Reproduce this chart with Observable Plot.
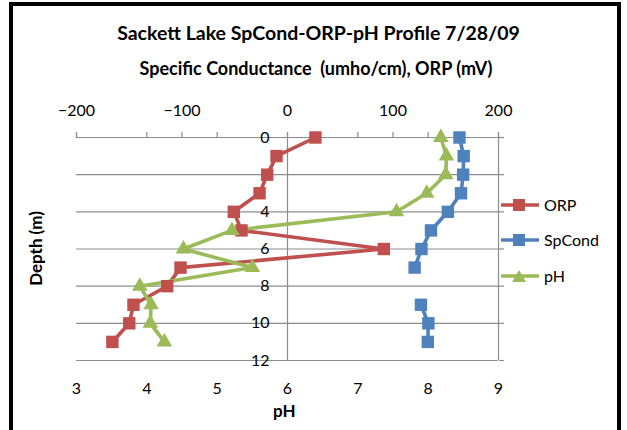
<!DOCTYPE html>
<html><head><meta charset="utf-8">
<script src="https://cdn.jsdelivr.net/npm/d3@7"></script>
<script src="https://cdn.jsdelivr.net/npm/@observablehq/plot@0.6"></script>
<style>
body{margin:0;background:#fff;}
#wrap{position:relative;width:627px;height:430px;overflow:hidden;font-family:Lato,"Open Sans",sans-serif;}
#frame{position:absolute;left:9px;top:2px;width:604px;height:460px;border:4px solid #000;}
.t{position:absolute;white-space:pre;color:#000;}
#plot{position:absolute;left:0;top:0;}
.leg{position:absolute;left:500px;font-size:16px;display:flex;align-items:center;}
.leg svg{margin-right:4px;}
</style></head>
<body><div id="wrap"><div id="frame"></div><div id="plot"></div>
<div class="t" id="title" style="left:0;width:637px;top:21px;text-align:center;font-size:19.5px;font-weight:bold;">Sackett Lake SpCond-ORP-pH Profile 7/28/09</div>
<div class="t" style="left:0;width:632px;top:57px;text-align:center;font-size:18px;font-weight:bold;">Specific Conductance  (umho/cm), ORP (mV)</div>
<div class="t" style="left:273px;top:400px;font-size:17px;font-weight:bold;">pH</div>
<div class="t" style="left:-5px;top:238px;font-size:17px;font-weight:bold;transform:rotate(-90deg);transform-origin:center;width:80px;text-align:center;">Depth (m)</div>
<div id="legend"></div>
</div>
<script>
const depth = [0,1,2,3,4,5,6,7,8,9,10,11];
const orp = [26.5,-10.4,-19.2,-26.5,-50.9,-43.6,91.3,-101.4,-114,-146,-150,-166];
const spcond = [163,167,166.5,164.5,152,136,127,120.5,null,126.5,133.5,133];
const ph = [8.18,8.26,8.25,7.98,7.55,5.21,4.52,5.5,3.9,4.06,4.05,4.25];
const topTicks = [-200,-100,0,100,200];
const phTicks = [3,4,5,6,7,8,9];
const depthTicks = [0,2,4,6,8,10,12];
const seriesNames = ["ORP","SpCond","pH"];
const colors = {ORP:"#C0504D", SpCond:"#4F81BD", pH:"#9BBB59"};

const phToX = d3.scaleLinear().domain([3,9]).range([-200,200]);
const rows = [];
depth.forEach((d,i)=>{
  rows.push({series:"ORP", depth:d, x:orp[i]});
  rows.push({series:"SpCond", depth:d, x:spcond[i]});
  rows.push({series:"pH", depth:d, x:phToX(ph[i])});
});
const sq = rows.filter(r=>r.series!=="pH" && r.x!=null);
const tri = rows.filter(r=>r.series==="pH");
const grey = "#8c8c8c";
const font = "Lato, Open Sans, sans-serif";

const chart = Plot.plot({
  width:627, height:430,
  marginLeft:76, marginRight:129, marginTop:137, marginBottom:70,
  style:{fontFamily:font, fontSize:"16px", background:"transparent", overflow:"visible"},
  x:{domain:[-200,200], axis:null},
  y:{domain:[0,12], reverse:true, axis:null},
  marks:[
    Plot.ruleY(depthTicks, {stroke:grey, strokeWidth:1.2}),
    Plot.ruleX([0], {stroke:grey, strokeWidth:1.2}),
    Plot.ruleX([200], {stroke:grey, strokeWidth:1.2}),
    Plot.axisX({anchor:"top", ticks:[...topTicks, ...phTicks.map(phToX)], tickSize:6, tickFormat:()=>"", stroke:grey, strokeWidth:1.2, label:null}),
    Plot.axisX({anchor:"top", ticks:topTicks, tickSize:0, tickPadding:22, fontSize:16, label:null}),
    Plot.axisX({anchor:"bottom", ticks:phTicks.map(phToX), tickSize:0, tickPadding:22, tickFormat:d=>d3.format("d")(phToX.invert(d)), fontSize:16, label:null}),
    Plot.axisY({anchor:"right", ticks:depthTicks, tickSize:5, tickFormat:()=>"", stroke:grey, strokeWidth:1.2, label:null}),
    Plot.text(depthTicks, {x:()=>0, y:d=>d, text:d=>String(d), dx:-18, textAnchor:"end", fontSize:16}),
    Plot.line(rows, {x:"x", y:"depth", z:"series", stroke:d=>colors[d.series], strokeWidth:3.6}),
    Plot.dot(sq, {x:"x", y:"depth", symbol:"square", r:7, fill:d=>colors[d.series], stroke:"none"}),
    Plot.dot(tri, {x:"x", y:"depth", symbol:"triangle", r:5.8, fill:d=>colors[d.series], stroke:"none"})
  ]
});
document.getElementById("plot").appendChild(chart);

const legTop = {ORP:205, SpCond:240, pH:276};
const leg = document.getElementById("legend");
seriesNames.forEach(n=>{
  const div = document.createElement("div");
  div.className="leg";
  div.style.top = (legTop[n]-10)+"px";
  const c = colors[n];
  const marker = n==="pH"
    ? `<path d="M19,2 L26,14 L12,14 Z" fill="${c}"/>`
    : `<rect x="13" y="2" width="12" height="12" fill="${c}"/>`;
  div.innerHTML = `<svg width="40" height="16"><line x1="1" x2="39" y1="8" y2="8" stroke="${c}" stroke-width="3.6"/>${marker}</svg><span>${n}</span>`;
  leg.appendChild(div);
});
</script></body></html>
